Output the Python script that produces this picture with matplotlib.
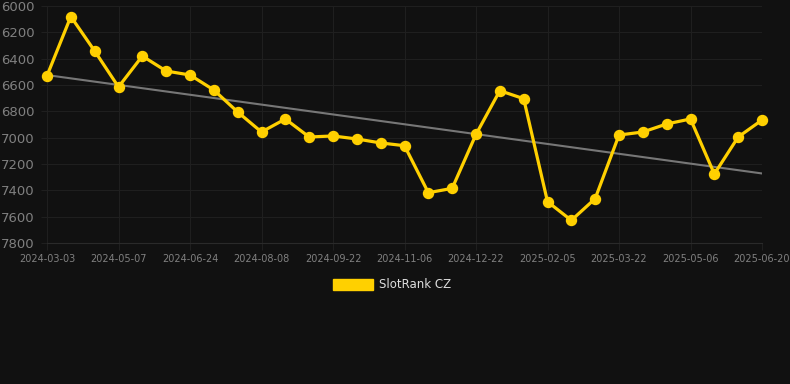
import numpy as np
import matplotlib
matplotlib.use("Agg")
import matplotlib.pyplot as plt

# rank values, one point every ~2 weeks (category axis)
ranks = [6530, 6080, 6342, 6615, 6380, 6494, 6524, 6638, 6805, 6957,
         6858, 6995, 6987, 7010, 7040, 7061, 7418, 7385, 6975, 6643,
         6704, 7486, 7628, 7463, 6980, 6957, 6896, 6858, 7276, 6995, 6866]
tick_labels = ["2024-03-03", "2024-05-07", "2024-06-24", "2024-08-08",
               "2024-09-22", "2024-11-06", "2024-12-22", "2025-02-05",
               "2025-03-22", "2025-05-06", "2025-06-20"]
series_name = "SlotRank CZ"

bg = "#111111"
gold = "#FFD000"
grid_c = "#1f1f1f"

x = np.arange(len(ranks))
slope, icpt = np.polyfit(x, ranks, 1)
trend = slope * x + icpt

fig = plt.figure(figsize=(7.9, 3.84), dpi=100, facecolor=bg)
ax = fig.add_axes([47/790, 1 - 243/384, (762-47)/790, (243-6)/384])
ax.set_facecolor(bg)

ax.plot(x, trend, color="#777777", lw=1.5, zorder=2)
ax.plot(x, ranks, color=gold, lw=2.3, marker="o", ms=7.2, zorder=3,
        solid_joinstyle="round", clip_on=False)

ax.set_xlim(0, len(ranks) - 1)
ax.set_ylim(7800, 6000)
ax.set_yticks(np.arange(6000, 7801, 200))
ax.set_xticks(x[::3])
ax.set_xticklabels(tick_labels)

ax.grid(True, color=grid_c, lw=0.8)
for s in ax.spines.values():
    s.set_visible(False)
ax.spines["bottom"].set_visible(True)
ax.spines["bottom"].set_color("#2a2a2a")
ax.tick_params(axis="y", colors="#808080", labelsize=9.5, length=4, pad=5,
               color=grid_c)
ax.tick_params(axis="x", colors="#808080", labelsize=7, length=5, pad=3,
               color=grid_c)
ax.set_axisbelow(True)

# legend below the chart
fig.patches.append(plt.Rectangle((333/790, 1 - 290/384), 40/790, 11/384,
                                 transform=fig.transFigure, color=gold))
fig.text(379/790, 1 - 285/384, series_name, color="#dddddd", fontsize=8.5,
         va="center", ha="left")

fig.savefig("out.png", dpi=100, facecolor=bg)
